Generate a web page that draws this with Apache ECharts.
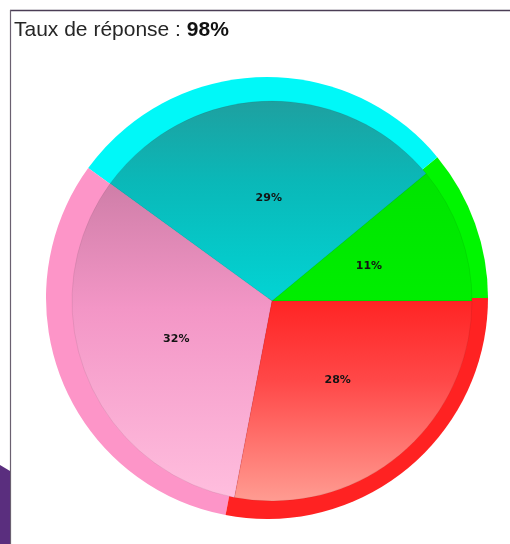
<!DOCTYPE html>
<html>
<head>
<meta charset="utf-8">
<script src="https://cdn.jsdelivr.net/npm/echarts@6/dist/echarts.min.js"></script>
<style>html,body{margin:0;padding:0;background:#fff;}#c{width:510px;height:544px;}</style>
</head>
<body>
<div id="c"></div>
<script>
const categories = ['Catégorie A', 'Catégorie B', 'Catégorie C', 'Catégorie D'];
const values = [11, 29, 32, 28];
const rimColors = ['#00f600', '#00f8f8', '#fd95c8', '#ff2222'];
const topColors = ['#00e400', '#1ea0a0', '#cf7ea8', '#ff2424'];
const midColors = ['#00e800', '#0ab8b8', '#f396c6', '#ff4848'];
const bottomColors = ['#00ee00', '#02d4d4', '#ffbede', '#ff9c92'];

const chart = echarts.init(document.getElementById('c'), null, {renderer: 'canvas'});

const rimData = categories.map((n, i) => ({name: n, value: values[i], itemStyle: {color: rimColors[i]}}));
const innerData = categories.map((n, i) => ({
  name: n, value: values[i],
  itemStyle: {color: {type: 'linear', x: 0, y: 0, x2: 0, y2: 1,
    colorStops: [{offset: 0, color: topColors[i]}, {offset: 0.4, color: midColors[i]}, {offset: 1, color: bottomColors[i]}]}}
}));

chart.setOption({
  animation: false,
  backgroundColor: '#ffffff',
  title: {
    text: '{n|Taux de réponse : }{b|98%}',
    left: 14, top: 20, padding: 0,
    textStyle: {
      fontWeight: 'normal',
      rich: {
        n: {fontFamily: 'Liberation Sans, Arial', fontSize: 21, fontWeight: 'normal', color: '#262626'},
        b: {fontFamily: 'Liberation Sans, Arial', fontSize: 21, fontWeight: 'bold', color: '#111'}
      }
    }
  },
  graphic: [
    {type: 'line', shape: {x1: 10, y1: 10.5, x2: 510, y2: 10.5}, style: {stroke: '#4a3d55', lineWidth: 1.5}},
    {type: 'line', shape: {x1: 10.5, y1: 10, x2: 10.5, y2: 544}, style: {stroke: '#6a6070', lineWidth: 1.2}},
    {type: 'polygon', shape: {points: [[0, 465], [10, 471], [10, 544], [0, 544]]}, style: {fill: '#5a2e7e'}}
  ],
  series: [
    {
      type: 'pie', center: [267, 298], radius: 221,
      startAngle: 0, clockwise: false, silent: true,
      label: {show: false}, labelLine: {show: false},
      itemStyle: {borderWidth: 0},
      data: rimData
    },
    {
      type: 'pie', center: [272, 301], radius: 200,
      startAngle: 0, clockwise: false, silent: true,
      itemStyle: {borderWidth: 0.6, borderColor: 'rgba(0,0,0,0.12)'},
      label: {
        show: true, position: 'inside', formatter: '{c}%',
        fontFamily: 'DejaVu Sans', fontWeight: 'bold', fontSize: 11, color: '#141414'
      },
      labelLine: {show: false},
      data: innerData
    }
  ]
});
</script>
</body>
</html>
